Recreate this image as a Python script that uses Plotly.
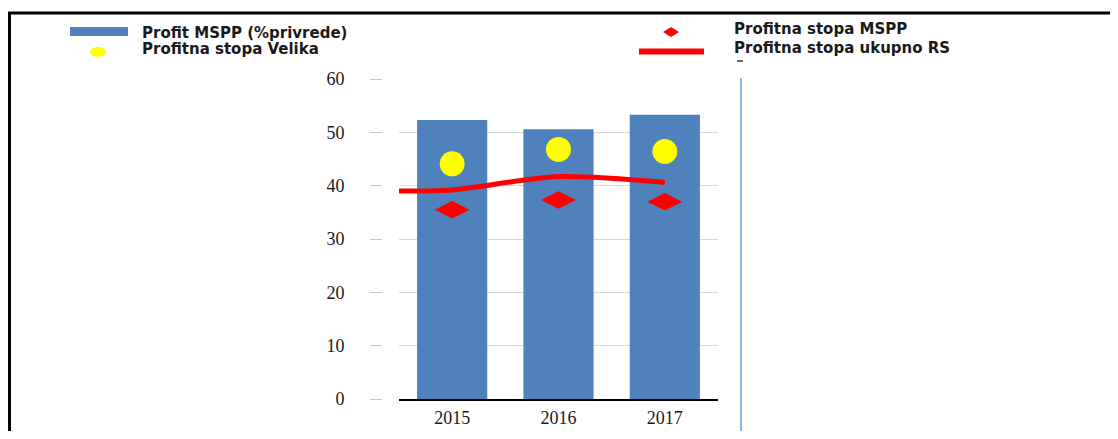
import plotly.graph_objects as go

# ---- data ----
years = ["2015", "2016", "2017"]
year_pos = [0, 1, 2]
profit_mspp = [52.3, 50.6, 53.3]          # bars (% privrede)
stopa_velika = [44.1, 46.8, 46.4]         # yellow circles
stopa_mspp = [35.5, 37.3, 37.0]           # red diamonds
stopa_rs_pos = [-0.5, 0, 1, 2]            # red line x positions
stopa_rs = [39.0, 39.2, 41.7, 40.6]       # red line values

legend_names = ["Profit MSPP (%privrede)", "Profitna stopa Velika",
                "Profitna stopa MSPP", "Profitna stopa ukupno RS"]
y_ticks = [0, 10, 20, 30, 40, 50, 60]

# page geometry (the figure div sits 8px in from the page corner, body margin 8px)
OFF = 8
PAGE_W, PAGE_H = 1118, 439
PL, PR, PT, PB = 370, 718, 79, 399   # paper area in page pixels
W, H = PAGE_W - 2 * OFF, PAGE_H - 2 * OFF
ML, MT = PL - OFF, PT - OFF
MR, MB = (PAGE_W - OFF) - PR, (PAGE_H - OFF) - PB
PW, PH = PR - PL, PB - PT


def px(x):
    return (x - PL) / PW


def py(y):
    return (PB - y) / PH


BLUE = "#4F81BD"
RED = "#FF0000"
YELLOW = "#FFFF00"

fig = go.Figure()
fig.add_trace(go.Bar(x=year_pos, y=profit_mspp, width=0.66,
                     marker=dict(color=BLUE, line=dict(width=0)),
                     name=legend_names[0]))
fig.add_trace(go.Scatter(x=stopa_rs_pos, y=stopa_rs, mode="lines",
                         line=dict(color=RED, width=5, shape="spline", smoothing=0.8),
                         name=legend_names[3]))
fig.add_trace(go.Scatter(x=year_pos, y=stopa_velika, mode="markers",
                         marker=dict(color=YELLOW, size=25, symbol="circle"),
                         name=legend_names[1]))
fig.add_trace(go.Scatter(x=year_pos, y=stopa_mspp, mode="markers",
                         marker=dict(color=RED, size=25, symbol="diamond-wide"),
                         name=legend_names[2]))

shapes = []
# frame (left and top)
shapes.append(dict(type="line", xref="paper", yref="paper",
                   x0=px(9.5), x1=px(9.5), y0=py(12), y1=py(PAGE_H + 2),
                   line=dict(color="black", width=3)))
shapes.append(dict(type="line", xref="paper", yref="paper",
                   x0=px(8), x1=px(PAGE_W + 2), y0=py(13), y1=py(13),
                   line=dict(color="black", width=3)))
# right vertical blue divider
shapes.append(dict(type="line", xref="paper", yref="paper",
                   x0=px(741), x1=px(741), y0=py(78), y1=py(433),
                   line=dict(color="#8DB4E2", width=2)))
shapes.append(dict(type="line", xref="paper", yref="paper",
                   x0=px(737), x1=px(743), y0=py(61), y1=py(61),
                   line=dict(color="#333", width=1.5)))
# legend symbols
shapes.append(dict(type="rect", xref="paper", yref="paper",
                   x0=px(70), x1=px(128), y0=py(36), y1=py(27),
                   fillcolor=BLUE, line=dict(width=0)))
shapes.append(dict(type="circle", xref="paper", yref="paper",
                   x0=px(90), x1=px(106), y0=py(57), y1=py(47),
                   fillcolor=YELLOW, line=dict(width=0)))
shapes.append(dict(type="path", xref="paper", yref="paper",
                   path=f"M {px(663)},{py(32)} L {px(671)},{py(27)} L {px(679)},{py(32)} L {px(671)},{py(37)} Z",
                   fillcolor=RED, line=dict(width=0)))
shapes.append(dict(type="line", xref="paper", yref="paper",
                   x0=px(639), x1=px(704), y0=py(51.5), y1=py(51.5),
                   line=dict(color=RED, width=6)))

LEG_FONT = dict(family="DejaVu Sans", size=15, color="#1a1a1a")
annotations = []
for name, (x, y) in zip(legend_names, [(140, 33), (140, 49), (732, 29), (732, 48)]):
    annotations.append(dict(text=f"<b>{name}</b>", xref="paper", yref="paper",
                            x=px(x), y=py(y), xanchor="left", yanchor="middle",
                            showarrow=False, font=LEG_FONT))

fig.update_layout(
    width=W, height=H,
    margin=dict(l=ML, r=MR, t=MT, b=MB, pad=0, autoexpand=False),
    paper_bgcolor="white", plot_bgcolor="white",
    showlegend=False,
    shapes=shapes, annotations=annotations,
    xaxis=dict(range=[-0.5, 2.5], domain=[px(399), 1], automargin=False,
               tickvals=year_pos, ticktext=years,
               showgrid=False, zeroline=False,
               showline=True, linecolor="black", linewidth=1.5,
               ticks="", ticklabelstandoff=2,
               tickfont=dict(family="Liberation Serif", size=18, color="#1a1a1a")),
    yaxis=dict(range=[0, 60], tickvals=y_ticks, automargin=False,
               anchor="free", position=px(382),
               showgrid=True, gridcolor="#D9D9D9", gridwidth=1,
               zeroline=False, showline=False,
               ticks="outside", ticklen=12, tickcolor="#C8C8C8", tickwidth=1,
               ticklabelstandoff=22,
               tickfont=dict(family="Liberation Serif", size=18, color="#1a1a1a")),
)

fig.write_html("out.html")
